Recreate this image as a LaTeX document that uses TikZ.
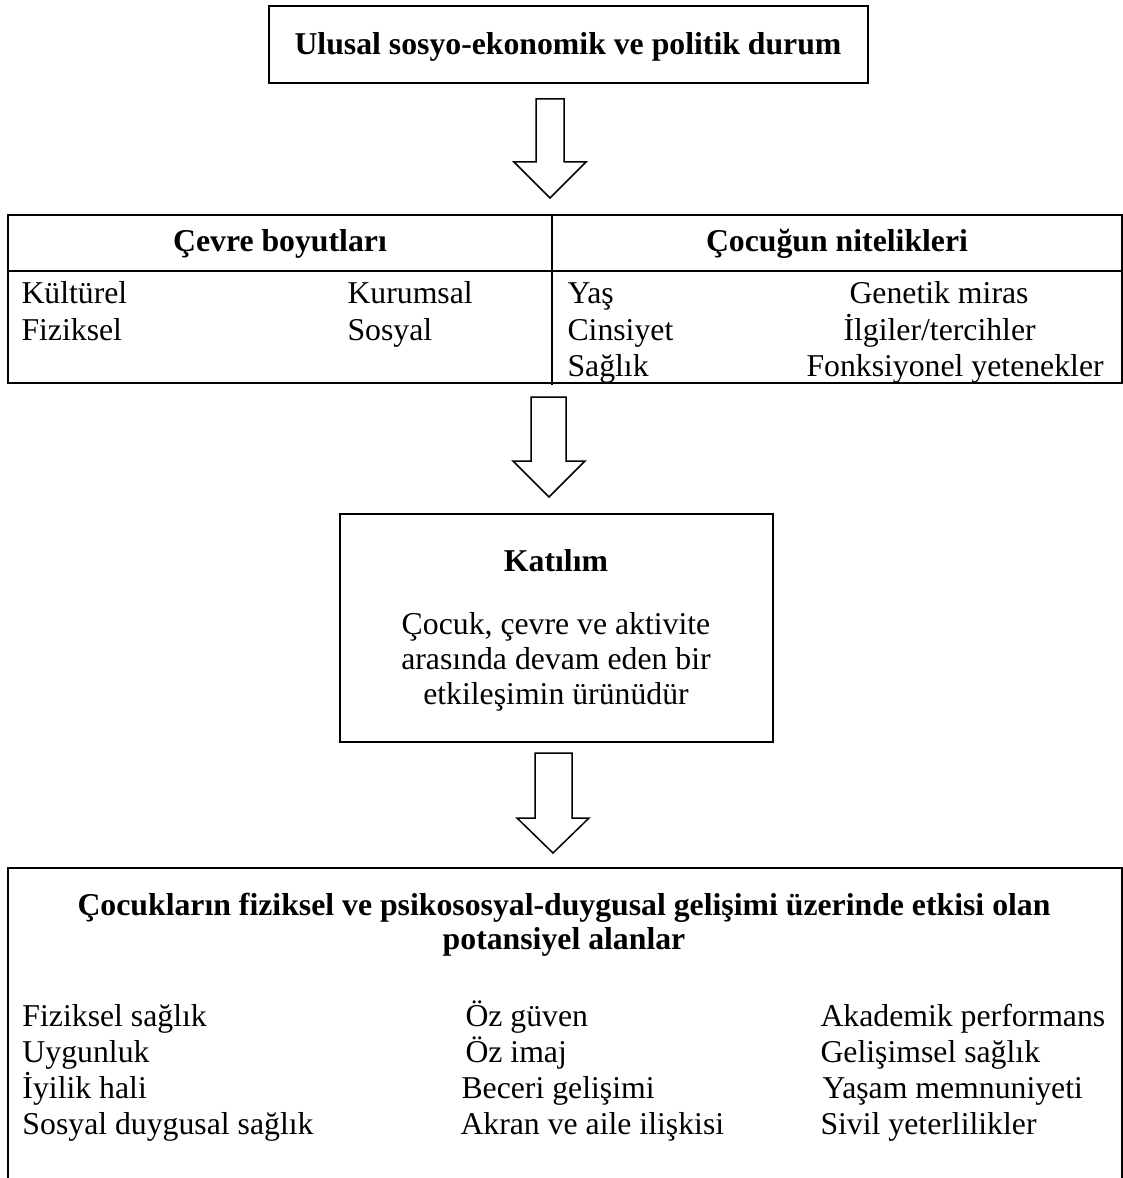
\documentclass[tikz,border=0pt]{standalone}
\usepackage{fontspec}
\setmainfont{Liberation Serif}
\usetikzlibrary{arrows}

\tikzset{
	frame/.style={line width=0.9pt},
	blockarrow/.style={line width=0.6pt},
	lbl/.style={inner sep=0pt, anchor=base west, font=\fontsize{12.7}{15}\selectfont},
	clbl/.style={lbl, anchor=base},
	blbl/.style={clbl, font=\fontsize{12.7}{15}\selectfont\bfseries}
}

\begin{document}
\begin{tikzpicture}[x=0.4pt, y=-0.4pt]
	\useasboundingbox (0,0) rectangle (1123,1178);

	\draw [frame] (269,6) rectangle (868,83);
	\node [blbl] (ulusal) at (568,55) {Ulusal sosyo-ekonomik ve politik durum};

	\draw [blockarrow] (536,99) -- (564,99) -- (564,162) -- (586,162) -- (550,198) -- (514,162) -- (536,162) -- cycle;

	\draw [frame] (8,215) rectangle (1122,383);
	\draw [frame] (8,271) -- (1122,271);
	\draw [frame] (552,215) -- (552,385);

	\node [blbl] (cevre) at (280,252) {Çevre boyutları};
	\node [blbl] (cocuk) at (837,252) {Çocuğun nitelikleri};

	\node [lbl] (kulturel) at (21,304) {Kültürel};
	\node [lbl] (fiziksel) at (21,340) {Fiziksel};
	\node [lbl] (kurumsal) at (347,304) {Kurumsal};
	\node [lbl] (sosyal) at (347,340) {Sosyal};

	\node [lbl] (yas) at (567,304) {Yaş};
	\node [lbl] (cinsiyet) at (567,340) {Cinsiyet};
	\node [lbl] (saglik) at (567,376) {Sağlık};
	\node [lbl] (genetik) at (849,304) {Genetik miras};
	\node [lbl] (ilgiler) at (843,340) {İlgiler/tercihler};
	\node [lbl] (fonksiyonel) at (806,376) {Fonksiyonel yetenekler};

	\draw [blockarrow] (531,397) -- (566,397) -- (566,461) -- (585,461) -- (549,497) -- (513,461) -- (531,461) -- cycle;

	\draw [frame] (340,514) rectangle (773,742);
	\node [blbl] (katilim) at (556,571) {Katılım};
	\node [clbl] (katilim1) at (556,634) {Çocuk, çevre ve aktivite};
	\node [clbl] (katilim2) at (556,669) {arasında devam eden bir};
	\node [clbl] (katilim3) at (556,704) {etkileşimin ürünüdür};

	\draw [blockarrow] (535,753) -- (572,753) -- (572,818) -- (589,818) -- (553,853) -- (517,818) -- (535,818) -- cycle;

	\draw [frame] (8,1178) -- (8,868) -- (1122,868) -- (1122,1178);
	\node [blbl] (alanlar1) at (564,915) {Çocukların fiziksel ve psikososyal-duygusal gelişimi üzerinde etkisi olan};
	\node [blbl] (alanlar2) at (564,949) {potansiyel alanlar};

	\node [lbl] (fizsaglik) at (22,1026) {Fiziksel sağlık};
	\node [lbl] (uygunluk) at (22,1062) {Uygunluk};
	\node [lbl] (iyilik) at (22,1098) {İyilik hali};
	\node [lbl] (sosduygu) at (22,1134) {Sosyal duygusal sağlık};

	\node [lbl] (ozguven) at (465,1026) {Öz güven};
	\node [lbl] (ozimaj) at (465,1062) {Öz imaj};
	\node [lbl] (beceri) at (461,1098) {Beceri gelişimi};
	\node [lbl] (akran) at (460,1134) {Akran ve aile ilişkisi};

	\node [lbl] (akademik) at (820,1026) {Akademik performans};
	\node [lbl] (gelisimsel) at (820,1062) {Gelişimsel sağlık};
	\node [lbl] (yasam) at (822,1098) {Yaşam memnuniyeti};
	\node [lbl] (sivil) at (820,1134) {Sivil yeterlilikler};
\end{tikzpicture}
\end{document}
